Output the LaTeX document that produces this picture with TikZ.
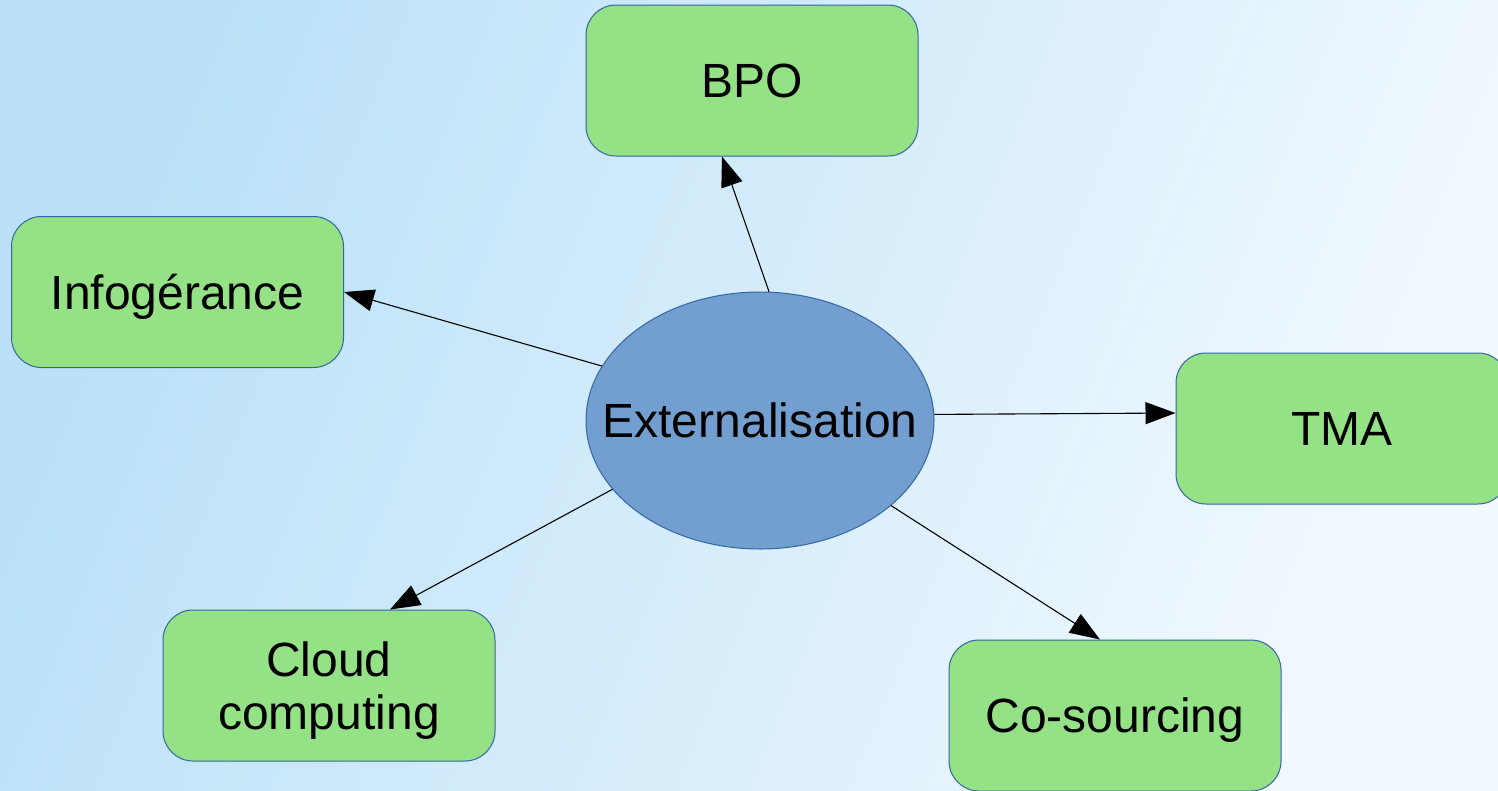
\documentclass[tikz,border=0pt]{standalone}
\usepackage{fontspec}
\setmainfont{Liberation Sans}
\usetikzlibrary{shapes.geometric,arrows.meta}
\definecolor{bgdark}{RGB}{186,225,248}
\definecolor{bglight}{RGB}{242,249,254}
\definecolor{boxgreen}{RGB}{148,225,134}
\definecolor{edgeblue}{RGB}{52,101,164}
\definecolor{ellblue}{RGB}{114,159,207}
\tikzset{
  box/.style={draw=edgeblue, line width=1pt, fill=boxgreen, rounded corners=30pt,
    minimum width=332pt, minimum height=151pt, inner sep=0pt,
    font=\fontsize{48}{53}\selectfont, text height=34pt, text depth=0pt, align=center},
  ell/.style={draw=edgeblue, line width=1pt, fill=ellblue, ellipse,
    minimum width=348pt, minimum height=257pt, inner sep=0pt},
  lbl/.style={inner sep=0pt, font=\fontsize{48}{53}\selectfont, text height=34pt, text depth=0pt},
  conn/.style={draw=black, line width=1.1pt, -{Triangle[length=30pt,width=22pt]}}
}
\begin{document}
\begin{tikzpicture}[x=1pt,y=-1pt]
\useasboundingbox (0,0) rectangle (1498,790);
\shade[top color=bgdark, bottom color=bglight, shading angle=68] (0,0) rectangle (1498,790);
\node[box] (bpo) at (752,80.5) {BPO};
\node[box] (info) at (177.5,292) {Infogérance};
\node[box] (tma) at (1342,428.5) {TMA};
\node[box, text height=87pt] (cloud) at (329,685.5) {Cloud\\computing};
\node[box] (cosrc) at (1115,715.5) {Co-sourcing};
\node[ell] (ext) at (760,420.5) {};
\node[lbl] (extlabel) at (ext.center) {Externalisation};
\draw[conn] (ext.86.4) -- ([xshift=-30pt]bpo.south);
\draw[conn] (ext.161.5) -- (info.east);
\draw[conn] (ext.2.5) -- ([yshift=15.5pt]tma.west);
\draw[conn] (ext.205.4) -- ([xshift=61pt]cloud.north);
\draw[conn] (ext.327.1) -- ([xshift=-15pt]cosrc.north);
\end{tikzpicture}
\end{document}
